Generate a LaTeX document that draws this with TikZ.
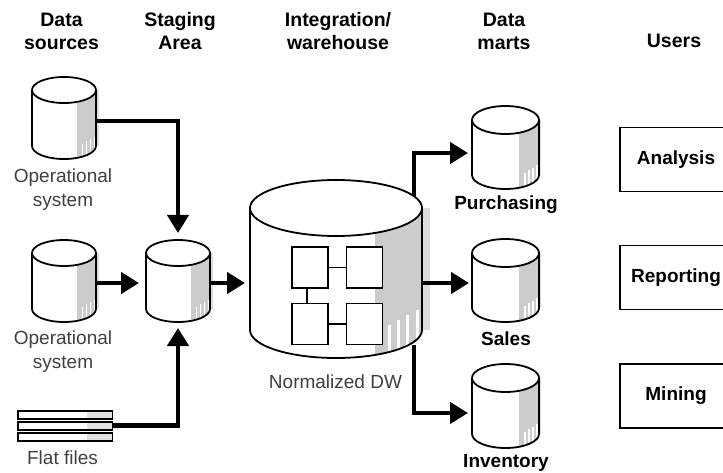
\documentclass[tikz,border=0pt]{standalone}
\usepackage{fontspec}
\setmainfont{Liberation Sans}
\usetikzlibrary{arrows.meta}
\definecolor{sidegray}{gray}{0.8}
\definecolor{dropgray}{gray}{0.86}
\definecolor{bargray}{gray}{0.88}
\tikzset{
  x=1pt,y=-1pt,
  flow/.style={line width=4.4pt,-{Triangle[length=18pt,width=21pt]}},
  head/.style={font=\fontsize{19.5}{23}\selectfont\bfseries,align=center,inner sep=0pt,text=black},
  lab/.style={font=\fontsize{19}{24}\selectfont\color{black!75},align=center,inner sep=0pt},
  mart/.style={font=\fontsize{19}{23}\selectfont\bfseries,align=center,inner sep=0pt},
  userbox/.style={draw,line width=1.8pt,minimum width=112pt,minimum height=64pt,inner sep=0pt,font=\fontsize{19}{23}\selectfont\bfseries},
  innerbox/.style={draw,line width=1.9pt,fill=white,minimum width=36pt,minimum height=41pt,inner sep=0pt},
  link/.style={line width=1.9pt},
  bar/.style={draw,line width=1.8pt,fill=white,minimum width=94pt,minimum height=8pt,inner sep=0pt}
}
% #1 left, #2 top, #3 width, #4 height, #5 ry, #6 side band width, #7 drop width
\newcommand{\cyl}[7]{%
  \pgfmathsetmacro{\lft}{#1}\pgfmathsetmacro{\rgt}{#1+#3}
  \pgfmathsetmacro{\rx}{#3/2}\pgfmathsetmacro{\cx}{#1+#3/2}
  \pgfmathsetmacro{\ty}{#2+#5}\pgfmathsetmacro{\by}{#2+#4-#5}
  \pgfmathsetmacro{\sx}{#1+#3-#6}\pgfmathsetmacro{\swx}{#1+#3+#7}
  \fill[dropgray] (\rgt,\ty) rectangle (\swx,\by);
  \fill[white] (\lft,\ty) -- (\lft,\by) arc[start angle=180,end angle=360,x radius=\rx pt,y radius=#5 pt] -- (\rgt,\ty) -- cycle;
  \begin{scope}
    \clip (\sx,#2) rectangle (\rgt,#2+#4);
    \fill[sidegray] (\lft,\ty) -- (\lft,\by) arc[start angle=180,end angle=360,x radius=\rx pt,y radius=#5 pt] -- (\rgt,\ty) -- cycle;
    % white ticks at the foot of the shaded band
    \foreach \k in {0.3,0.5,0.7,0.9}
      \draw[white,line width=#6*0.06pt] (\sx+#6*\k,#2+#4) -- (\sx+#6*\k,\by+#5*0.1-#5*\k*0.9);
  \end{scope}
  \draw[line width=1.8pt] (\lft,\ty) -- (\lft,\by) arc[start angle=180,end angle=360,x radius=\rx pt,y radius=#5 pt] -- (\rgt,\ty);
  \draw[line width=1.8pt,fill=white] (\cx,\ty) ellipse[x radius=\rx pt,y radius=#5 pt];
}
\begin{document}
\begin{tikzpicture}
\useasboundingbox[fill=white] (0,0) rectangle (723,473);
\coordinate (srcA) at (96,121);
\coordinate (stageTop) at (178,233);
\coordinate (flatOut) at (112,425.5);
\coordinate (stageBot) at (178,328);
\coordinate (dwTop) at (414,200);
\coordinate (dwBot) at (414,345);
\coordinate (martA) at (468,153);
\coordinate (martC) at (468,413);
\coordinate (srcB) at (96,283);
\coordinate (stageIn) at (139,283);
\coordinate (stageOut) at (210,283);
\coordinate (dwIn) at (245,283);
\coordinate (dwOut) at (422,283);
\coordinate (martB) at (469,283);
% branches behind the warehouse cylinder
\draw[flow] (dwTop) |- (martA);
\draw[flow] (dwBot) |- (martC);
% cylinders
\cyl{32}{77}{64}{82}{13}{19}{3}
\cyl{32}{240}{64}{82}{13}{19}{3}
\cyl{146}{240}{64}{82}{13}{19}{3}
\cyl{250}{180}{172}{178}{28}{47}{8}
\cyl{472}{106}{67}{83}{14}{20}{2}
\cyl{472}{239}{67}{83}{14}{20}{2}
\cyl{472}{364}{67}{84}{14}{20}{2}
% connectors in front
\draw[flow] (srcA) -| (stageTop);
\draw[flow] (flatOut) -| (stageBot);
\draw[flow] (srcB) -- (stageIn);
\draw[flow] (stageOut) -- (dwIn);
\draw[flow] (dwOut) -- (martB);
% schema boxes
\node[innerbox] (b1) at (310,267.5) {};
\node[innerbox] (b2) at (364.5,267.5) {};
\node[innerbox] (b3) at (310,324) {};
\node[innerbox] (b4) at (364.5,324) {};
\draw[link] (b1) -- (b2);
\draw[link] (b3) -- (b4);
\draw[link] ([xshift=-3pt]b1.south) -- ([xshift=-3pt]b3.north);
% flat files
\node[bar] (f1) at (65,415) {};
\node[bar] (f2) at (65,426) {};
\node[bar] (f3) at (65,437) {};
\foreach \n in {f1,f2,f3}
  \fill[bargray] ([xshift=-26pt,yshift=-2.7pt]\n.east) rectangle ([xshift=-1pt,yshift=2.7pt]\n.east);
% labels
\node[head] (h1) at (61.5,31) {Data\\sources};
\node[head] (h2) at (180,31) {Staging\\Area};
\node[head] (h3) at (338,31) {Integration/\\warehouse};
\node[head] (h4) at (504,31) {Data\\marts};
\node[head] (h5) at (674,41) {Users};
\node[lab] (l1) at (63,190) {Operational\\system};
\node[lab] (l2) at (63,352) {Operational\\system};
\node[lab] (l3) at (335.5,382) {Normalized DW};
\node[lab] (l4) at (62.5,458) {Flat files};
\node[mart] (m1) at (506,205) {Purchasing};
\node[mart] (m2) at (506,339) {Sales};
\node[mart] (m3) at (506,463) {Inventory};
\node[userbox] (u1) at (676,159.5) {Analysis};
\node[userbox] (u2) at (676,277.5) {Reporting};
\node[userbox] (u3) at (676,396) {Mining};
\end{tikzpicture}
\end{document}
